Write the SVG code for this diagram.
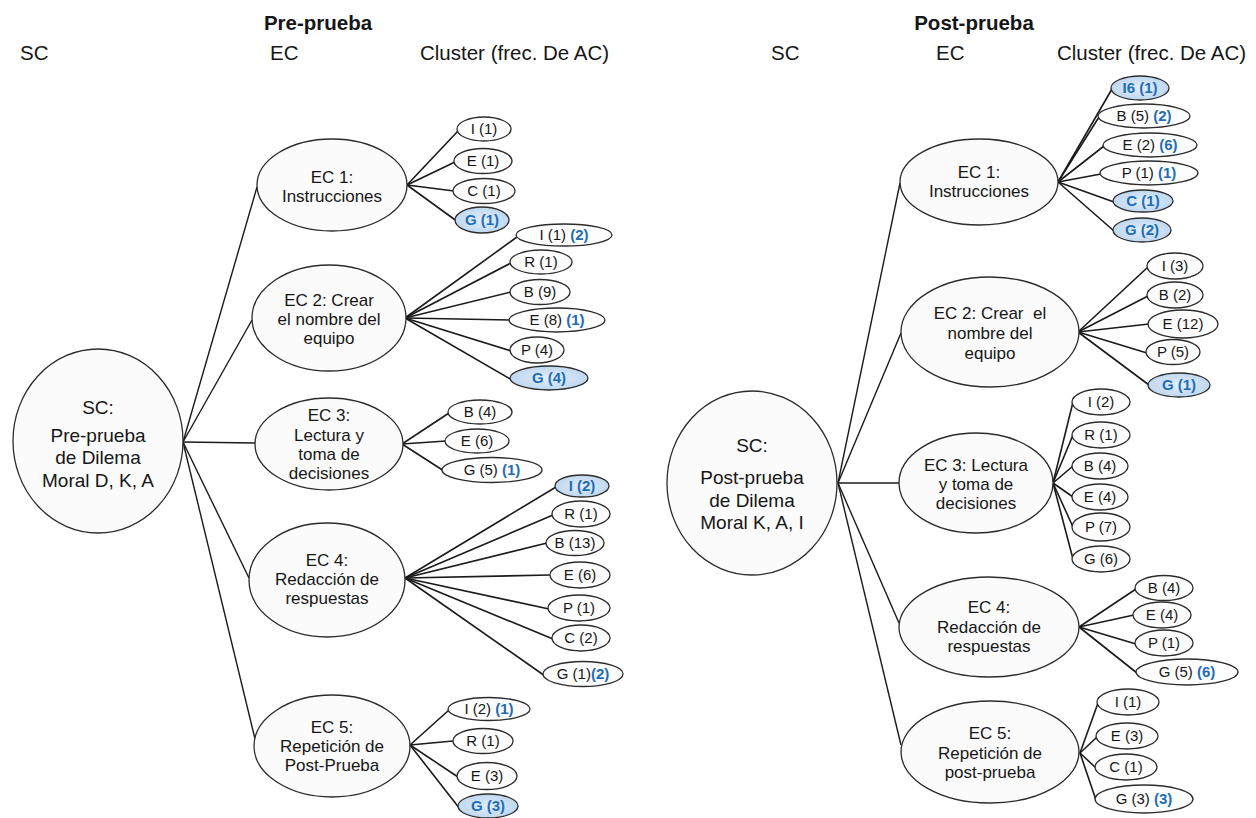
<svg xmlns="http://www.w3.org/2000/svg" width="1256" height="818" viewBox="0 0 1256 818">
  <defs>
    <radialGradient id="hiFill" cx="50%" cy="50%" r="60%">
      <stop offset="0" stop-color="#e2eefa"/>
      <stop offset="1" stop-color="#b8d3ee"/>
    </radialGradient>
    <style>
      text { font-family: "Liberation Sans", Arial, sans-serif; fill: #161616; text-anchor: middle; }
      .head { font-size: 20.5px; text-anchor: start; }
      .title { font-size: 20.5px; font-weight: bold; }
      .sc { fill: #fbfbfb; stroke: #2b2b2b; stroke-width: 1.3; }
      .sct { font-size: 19px; }
      .ec { fill: #fbfbfb; stroke: #2b2b2b; stroke-width: 1.3; }
      .ect { font-size: 17px; }
      .leaf { fill: #fdfdfd; stroke: #2b2b2b; stroke-width: 1.3; }
      .hi { fill: url(#hiFill); }
      .lt { font-size: 15px; }
      .b { fill: #1f6db5; font-weight: bold; }
      .con line { stroke: #1a1a1a; stroke-width: 1.4; }
      .con .fan line { stroke-width: 1.6; }
    </style>
  </defs>
  <rect width="1256" height="818" fill="#ffffff"/>

  <!-- column headings -->
  <g id="headings">
    <text class="title" x="318" y="30">Pre-prueba</text>
    <text class="head" x="20" y="60">SC</text>
    <text class="head" x="270" y="60">EC</text>
    <text class="head" x="420" y="60">Cluster (frec. De AC)</text>
    <text class="title" x="974" y="30">Post-prueba</text>
    <text class="head" x="771" y="60">SC</text>
    <text class="head" x="936" y="60">EC</text>
    <text class="head" x="1057" y="60">Cluster (frec. De AC)</text>
  </g>

  <!-- connectors -->
  <g id="connectors" class="con">
    <!-- pre-test: SC to EC -->
    <line x1="183" y1="442" x2="257" y2="187"/>
    <line x1="183" y1="442" x2="252" y2="320"/>
    <line x1="183" y1="442" x2="255" y2="443"/>
    <line x1="183" y1="442" x2="249" y2="578"/>
    <line x1="183" y1="442" x2="256" y2="743"/>
    <g class="fan">
      <!-- pre-test EC 1 -->
      <line x1="407" y1="185" x2="458" y2="131"/>
      <line x1="407" y1="185" x2="455" y2="162"/>
      <line x1="407" y1="185" x2="454" y2="191"/>
      <line x1="407" y1="185" x2="458" y2="222"/>
      <!-- pre-test EC 2 -->
      <line x1="405" y1="318" x2="517" y2="237"/>
      <line x1="405" y1="318" x2="511" y2="263"/>
      <line x1="405" y1="318" x2="511" y2="292"/>
      <line x1="405" y1="318" x2="510" y2="320"/>
      <line x1="405" y1="318" x2="511" y2="351"/>
      <line x1="405" y1="318" x2="512" y2="380"/>
      <!-- pre-test EC 3 -->
      <line x1="402" y1="444" x2="449" y2="413"/>
      <line x1="402" y1="444" x2="446" y2="441"/>
      <line x1="402" y1="444" x2="444" y2="471"/>
      <!-- pre-test EC 4 -->
      <line x1="405" y1="578" x2="556" y2="487"/>
      <line x1="405" y1="578" x2="553" y2="515"/>
      <line x1="405" y1="578" x2="547" y2="543"/>
      <line x1="405" y1="578" x2="550" y2="575"/>
      <line x1="405" y1="578" x2="549" y2="609"/>
      <line x1="405" y1="578" x2="553" y2="639"/>
      <line x1="405" y1="578" x2="545" y2="676"/>
      <!-- pre-test EC 5 -->
      <line x1="410" y1="745" x2="449" y2="710"/>
      <line x1="410" y1="745" x2="453" y2="741"/>
      <line x1="410" y1="745" x2="458" y2="777"/>
      <line x1="410" y1="745" x2="460" y2="809"/>
    </g>

    <!-- post-test: SC to EC -->
    <line x1="838" y1="483" x2="900" y2="183"/>
    <line x1="838" y1="483" x2="901" y2="333"/>
    <line x1="838" y1="483" x2="899" y2="483"/>
    <line x1="838" y1="483" x2="899" y2="623"/>
    <line x1="838" y1="483" x2="901" y2="745"/>
    <g class="fan">
      <!-- post-test EC 1 -->
      <line x1="1058" y1="182" x2="1112" y2="89"/>
      <line x1="1058" y1="182" x2="1099" y2="117"/>
      <line x1="1058" y1="182" x2="1104" y2="146"/>
      <line x1="1058" y1="182" x2="1101" y2="174"/>
      <line x1="1058" y1="182" x2="1114" y2="202"/>
      <line x1="1058" y1="182" x2="1114" y2="231"/>
      <!-- post-test EC 2 -->
      <line x1="1078" y1="332" x2="1148" y2="267"/>
      <line x1="1078" y1="332" x2="1148" y2="296"/>
      <line x1="1078" y1="332" x2="1149" y2="324"/>
      <line x1="1078" y1="332" x2="1147" y2="353"/>
      <line x1="1078" y1="332" x2="1149" y2="385"/>
      <!-- post-test EC 3 -->
      <line x1="1053" y1="483" x2="1073" y2="402"/>
      <line x1="1053" y1="483" x2="1073" y2="435"/>
      <line x1="1053" y1="483" x2="1073" y2="466"/>
      <line x1="1053" y1="483" x2="1073" y2="497"/>
      <line x1="1053" y1="483" x2="1073" y2="527"/>
      <line x1="1053" y1="483" x2="1073" y2="559"/>
      <!-- post-test EC 4 -->
      <line x1="1079" y1="627" x2="1136" y2="589"/>
      <line x1="1079" y1="627" x2="1134" y2="615"/>
      <line x1="1079" y1="627" x2="1136" y2="644"/>
      <line x1="1079" y1="627" x2="1137" y2="673"/>
      <!-- post-test EC 5 -->
      <line x1="1080" y1="753" x2="1098" y2="703"/>
      <line x1="1080" y1="753" x2="1097" y2="737"/>
      <line x1="1080" y1="753" x2="1096" y2="768"/>
      <line x1="1080" y1="753" x2="1096" y2="800"/>
    </g>
  </g>

  <!-- ===== Pre-prueba tree ===== -->
  <g id="pre-sc">
    <ellipse class="sc" cx="98" cy="441" rx="85" ry="92"/>
    <text class="sct" x="98" y="414">SC:</text>
    <text class="sct" x="98" y="442">Pre-prueba</text>
    <text class="sct" x="98" y="464">de Dilema</text>
    <text class="sct" x="98" y="487">Moral D, K, A</text>
  </g>

  <g id="pre-ec1">
    <ellipse class="ec" cx="332" cy="185" rx="75" ry="46"/>
    <text class="ect" x="332" y="183">EC 1:</text>
    <text class="ect" x="332" y="202">Instrucciones</text>
  </g>
  <g id="pre-ec2">
    <ellipse class="ec" cx="329" cy="318" rx="77" ry="53"/>
    <text class="ect" x="329" y="306">EC 2: Crear</text>
    <text class="ect" x="329" y="325">el nombre del</text>
    <text class="ect" x="329" y="344">equipo</text>
  </g>
  <g id="pre-ec3">
    <ellipse class="ec" cx="329" cy="444" rx="74" ry="46"/>
    <text class="ect" x="329" y="421">EC 3:</text>
    <text class="ect" x="329" y="441">Lectura y</text>
    <text class="ect" x="329" y="460">toma de</text>
    <text class="ect" x="329" y="479">decisiones</text>
  </g>
  <g id="pre-ec4">
    <ellipse class="ec" cx="327" cy="580" rx="78" ry="57"/>
    <text class="ect" x="327" y="566">EC 4:</text>
    <text class="ect" x="327" y="585">Redacción de</text>
    <text class="ect" x="327" y="604">respuestas</text>
  </g>
  <g id="pre-ec5">
    <ellipse class="ec" cx="332" cy="746" rx="78" ry="51"/>
    <text class="ect" x="332" y="733">EC 5:</text>
    <text class="ect" x="332" y="752">Repetición de</text>
    <text class="ect" x="332" y="771">Post-Prueba</text>
  </g>

  <!-- pre EC 1 clusters -->
  <g id="pre-ec1-i"><ellipse class="leaf" cx="484" cy="129" rx="27" ry="12"/><text class="lt" x="484" y="134">I (1)</text></g>
  <g id="pre-ec1-e"><ellipse class="leaf" cx="483" cy="161" rx="29" ry="12.5"/><text class="lt" x="483" y="166">E (1)</text></g>
  <g id="pre-ec1-c"><ellipse class="leaf" cx="484" cy="191" rx="31" ry="12.5"/><text class="lt" x="484" y="196">C (1)</text></g>
  <g id="pre-ec1-g"><ellipse class="leaf hi" cx="482" cy="220" rx="27" ry="13"/><text class="lt b" x="482" y="225">G (1)</text></g>

  <!-- pre EC 2 clusters -->
  <g id="pre-ec2-i"><ellipse class="leaf" cx="564" cy="235" rx="48" ry="11"/><text class="lt" x="564" y="240">I (1) <tspan class="b">(2)</tspan></text></g>
  <g id="pre-ec2-r"><ellipse class="leaf" cx="541" cy="262" rx="31" ry="12"/><text class="lt" x="541" y="267">R (1)</text></g>
  <g id="pre-ec2-b"><ellipse class="leaf" cx="540" cy="292" rx="30" ry="12.5"/><text class="lt" x="540" y="297">B (9)</text></g>
  <g id="pre-ec2-e"><ellipse class="leaf" cx="557" cy="320" rx="48" ry="12"/><text class="lt" x="557" y="325">E (8) <tspan class="b">(1)</tspan></text></g>
  <g id="pre-ec2-p"><ellipse class="leaf" cx="537" cy="350" rx="27" ry="13"/><text class="lt" x="537" y="355">P (4)</text></g>
  <g id="pre-ec2-g"><ellipse class="leaf hi" cx="549" cy="378" rx="39" ry="12"/><text class="lt b" x="549" y="383">G (4)</text></g>

  <!-- pre EC 3 clusters -->
  <g id="pre-ec3-b"><ellipse class="leaf" cx="480" cy="412" rx="32" ry="12"/><text class="lt" x="480" y="417">B (4)</text></g>
  <g id="pre-ec3-e"><ellipse class="leaf" cx="477" cy="441" rx="32" ry="12"/><text class="lt" x="477" y="446">E (6)</text></g>
  <g id="pre-ec3-g"><ellipse class="leaf" cx="492" cy="470" rx="50" ry="12.5"/><text class="lt" x="492" y="475">G (5) <tspan class="b">(1)</tspan></text></g>

  <!-- pre EC 4 clusters -->
  <g id="pre-ec4-i"><ellipse class="leaf hi" cx="582" cy="486" rx="27" ry="11"/><text class="lt b" x="582" y="491">I (2)</text></g>
  <g id="pre-ec4-r"><ellipse class="leaf" cx="581" cy="514" rx="29" ry="13"/><text class="lt" x="581" y="519">R (1)</text></g>
  <g id="pre-ec4-b"><ellipse class="leaf" cx="575" cy="543" rx="29" ry="12.5"/><text class="lt" x="575" y="548">B (13)</text></g>
  <g id="pre-ec4-e"><ellipse class="leaf" cx="580" cy="575" rx="30" ry="13"/><text class="lt" x="580" y="580">E (6)</text></g>
  <g id="pre-ec4-p"><ellipse class="leaf" cx="579" cy="608" rx="31" ry="13"/><text class="lt" x="579" y="613">P (1)</text></g>
  <g id="pre-ec4-c"><ellipse class="leaf" cx="581" cy="638" rx="29" ry="13"/><text class="lt" x="581" y="643">C (2)</text></g>
  <g id="pre-ec4-g"><ellipse class="leaf" cx="583" cy="674" rx="40" ry="12.5"/><text class="lt" x="583" y="679">G (1)<tspan class="b">(2)</tspan></text></g>

  <!-- pre EC 5 clusters -->
  <g id="pre-ec5-i"><ellipse class="leaf" cx="489" cy="709" rx="41" ry="11.5"/><text class="lt" x="489" y="714">I (2) <tspan class="b">(1)</tspan></text></g>
  <g id="pre-ec5-r"><ellipse class="leaf" cx="483" cy="741" rx="30" ry="12.5"/><text class="lt" x="483" y="746">R (1)</text></g>
  <g id="pre-ec5-e"><ellipse class="leaf" cx="487" cy="776" rx="30" ry="13.5"/><text class="lt" x="487" y="781">E (3)</text></g>
  <g id="pre-ec5-g"><ellipse class="leaf hi" cx="488" cy="806" rx="30" ry="12"/><text class="lt b" x="488" y="811">G (3)</text></g>

  <!-- ===== Post-prueba tree ===== -->
  <g id="post-sc">
    <ellipse class="sc" cx="752" cy="483" rx="85" ry="92"/>
    <text class="sct" x="752" y="452">SC:</text>
    <text class="sct" x="752" y="484">Post-prueba</text>
    <text class="sct" x="752" y="507">de Dilema</text>
    <text class="sct" x="752" y="529">Moral K, A, I</text>
  </g>

  <g id="post-ec1">
    <ellipse class="ec" cx="979" cy="182" rx="79" ry="43"/>
    <text class="ect" x="979" y="178">EC 1:</text>
    <text class="ect" x="979" y="197">Instrucciones</text>
  </g>
  <g id="post-ec2">
    <ellipse class="ec" cx="990" cy="332" rx="89" ry="55"/>
    <text class="ect" x="990" y="319" xml:space="preserve">EC 2: Crear  el</text>
    <text class="ect" x="990" y="339">nombre del</text>
    <text class="ect" x="990" y="359">equipo</text>
  </g>
  <g id="post-ec3">
    <ellipse class="ec" cx="976" cy="483" rx="77" ry="50"/>
    <text class="ect" x="976" y="471">EC 3: Lectura</text>
    <text class="ect" x="976" y="490">y toma de</text>
    <text class="ect" x="976" y="509">decisiones</text>
  </g>
  <g id="post-ec4">
    <ellipse class="ec" cx="989" cy="627" rx="90" ry="50"/>
    <text class="ect" x="989" y="613">EC 4:</text>
    <text class="ect" x="989" y="633">Redacción de</text>
    <text class="ect" x="989" y="652">respuestas</text>
  </g>
  <g id="post-ec5">
    <ellipse class="ec" cx="990" cy="752" rx="89" ry="51"/>
    <text class="ect" x="990" y="739">EC 5:</text>
    <text class="ect" x="990" y="759">Repetición de</text>
    <text class="ect" x="990" y="778">post-prueba</text>
  </g>

  <!-- post EC 1 clusters -->
  <g id="post-ec1-i"><ellipse class="leaf hi" cx="1140" cy="88" rx="29" ry="12"/><text class="lt b" x="1140" y="93">I6 (1)</text></g>
  <g id="post-ec1-b"><ellipse class="leaf" cx="1144" cy="116" rx="46" ry="12"/><text class="lt" x="1144" y="121">B (5) <tspan class="b">(2)</tspan></text></g>
  <g id="post-ec1-e"><ellipse class="leaf" cx="1150" cy="145" rx="47" ry="12"/><text class="lt" x="1150" y="150">E (2) <tspan class="b">(6)</tspan></text></g>
  <g id="post-ec1-p"><ellipse class="leaf" cx="1149" cy="173" rx="49" ry="12"/><text class="lt" x="1149" y="178">P (1) <tspan class="b">(1)</tspan></text></g>
  <g id="post-ec1-c"><ellipse class="leaf hi" cx="1143" cy="201" rx="30" ry="11"/><text class="lt b" x="1143" y="206">C (1)</text></g>
  <g id="post-ec1-g"><ellipse class="leaf hi" cx="1142" cy="230" rx="29" ry="12"/><text class="lt b" x="1142" y="235">G (2)</text></g>

  <!-- post EC 2 clusters -->
  <g id="post-ec2-i"><ellipse class="leaf" cx="1175" cy="266" rx="28" ry="13"/><text class="lt" x="1175" y="271">I (3)</text></g>
  <g id="post-ec2-b"><ellipse class="leaf" cx="1175" cy="295" rx="28" ry="13"/><text class="lt" x="1175" y="300">B (2)</text></g>
  <g id="post-ec2-e"><ellipse class="leaf" cx="1183" cy="324" rx="35" ry="14"/><text class="lt" x="1183" y="329">E (12)</text></g>
  <g id="post-ec2-p"><ellipse class="leaf" cx="1173" cy="352" rx="27" ry="12.5"/><text class="lt" x="1173" y="357">P (5)</text></g>
  <g id="post-ec2-g"><ellipse class="leaf hi" cx="1179" cy="385" rx="31" ry="12"/><text class="lt b" x="1179" y="390">G (1)</text></g>

  <!-- post EC 3 clusters -->
  <g id="post-ec3-i"><ellipse class="leaf" cx="1101" cy="402" rx="29" ry="13"/><text class="lt" x="1101" y="407">I (2)</text></g>
  <g id="post-ec3-r"><ellipse class="leaf" cx="1101" cy="435" rx="29" ry="13"/><text class="lt" x="1101" y="440">R (1)</text></g>
  <g id="post-ec3-b"><ellipse class="leaf" cx="1100" cy="466" rx="28" ry="13"/><text class="lt" x="1100" y="471">B (4)</text></g>
  <g id="post-ec3-e"><ellipse class="leaf" cx="1100" cy="497" rx="28" ry="13"/><text class="lt" x="1100" y="502">E (4)</text></g>
  <g id="post-ec3-p"><ellipse class="leaf" cx="1101" cy="527" rx="29" ry="14"/><text class="lt" x="1101" y="532">P (7)</text></g>
  <g id="post-ec3-g"><ellipse class="leaf" cx="1101" cy="559" rx="29" ry="13"/><text class="lt" x="1101" y="564">G (6)</text></g>

  <!-- post EC 4 clusters -->
  <g id="post-ec4-b"><ellipse class="leaf" cx="1164" cy="588" rx="29" ry="12.5"/><text class="lt" x="1164" y="593">B (4)</text></g>
  <g id="post-ec4-e"><ellipse class="leaf" cx="1162" cy="615" rx="29" ry="13"/><text class="lt" x="1162" y="620">E (4)</text></g>
  <g id="post-ec4-p"><ellipse class="leaf" cx="1164" cy="643" rx="29" ry="13"/><text class="lt" x="1164" y="648">P (1)</text></g>
  <g id="post-ec4-g"><ellipse class="leaf" cx="1187" cy="672" rx="51" ry="13"/><text class="lt" x="1187" y="677">G (5) <tspan class="b">(6)</tspan></text></g>

  <!-- post EC 5 clusters -->
  <g id="post-ec5-i"><ellipse class="leaf" cx="1128" cy="702" rx="31" ry="13"/><text class="lt" x="1128" y="707">I (1)</text></g>
  <g id="post-ec5-e"><ellipse class="leaf" cx="1127" cy="736" rx="31" ry="13"/><text class="lt" x="1127" y="741">E (3)</text></g>
  <g id="post-ec5-c"><ellipse class="leaf" cx="1126" cy="767" rx="31" ry="13"/><text class="lt" x="1126" y="772">C (1)</text></g>
  <g id="post-ec5-g"><ellipse class="leaf" cx="1144" cy="799" rx="49" ry="14"/><text class="lt" x="1144" y="804">G (3) <tspan class="b">(3)</tspan></text></g>
</svg>
